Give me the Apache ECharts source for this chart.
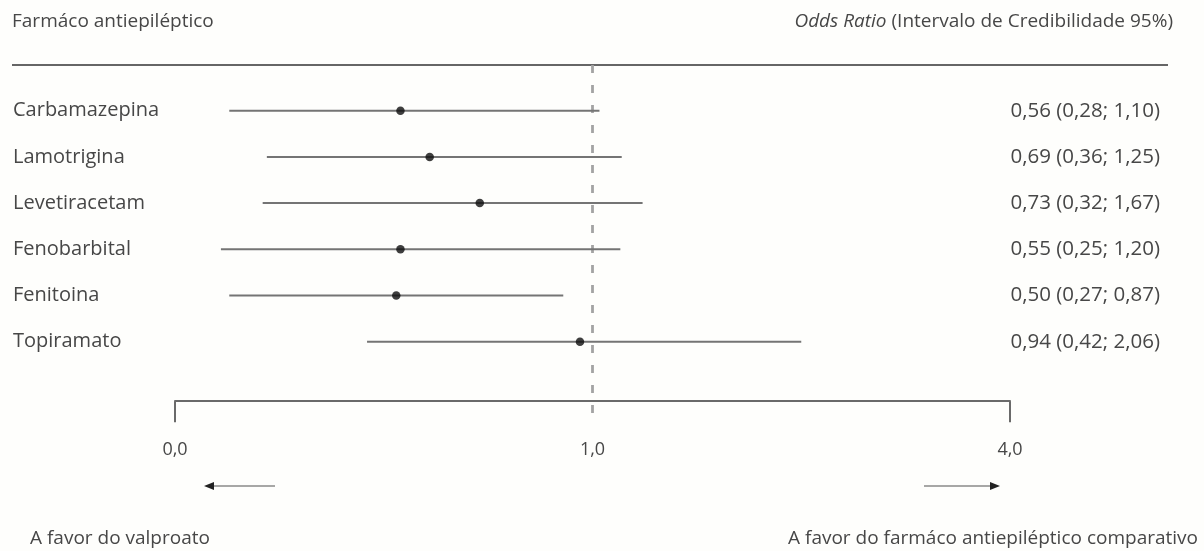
<!DOCTYPE html>
<html>
<head>
<meta charset="utf-8">
<script src="https://cdn.jsdelivr.net/npm/echarts@6/dist/echarts.min.js"></script>
<style>
html,body{margin:0;padding:0;background:#fefefc;}
#c{width:1204px;height:551px;}
</style>
</head>
<body>
<div id="c"></div>
<script>
// ---- data ----
const drugs = ['Carbamazepina', 'Lamotrigina', 'Levetiracetam', 'Fenobarbital', 'Fenitoina', 'Topiramato'];
const ciText = ['0,56 (0,28; 1,10)', '0,69 (0,36; 1,25)', '0,73 (0,32; 1,67)', '0,55 (0,25; 1,20)', '0,50 (0,27; 0,87)', '0,94 (0,42; 2,06)'];
// positions of the marks as drawn in the figure, read against its axis (0,0 | 1,0 | 4,0)
const pointDrawn = [0.54, 0.61, 0.73, 0.54, 0.53, 0.97];
const lowDrawn = [0.13, 0.22, 0.21, 0.11, 0.13, 0.46];
const highDrawn = [1.05, 1.21, 1.36, 1.20, 0.93, 2.50];
const axisTickValues = [0, 1, 4];
const axisTickLabels = ['0,0', '1,0', '4,0'];
const refValue = 1;

// axis of the figure: 0..1 and 1..4 take equal lengths
function toAxis(v) { return v <= 1 ? v : 1 + (v - 1) / 3; }

const FONT = 'Open Sans';
const TXT = '#474747';
const chart = echarts.init(document.getElementById('c'), null, {renderer: 'canvas'});

const tickPos = axisTickValues.map(toAxis);

const option = {
  backgroundColor: '#fefefc',
  animation: false,
  title: [
    {text: 'Farmáco antiepiléptico', left: 12, top: 12, padding: 0,
     textStyle: {fontSize: 19, fontWeight: 'normal', color: TXT, fontFamily: FONT}},
    {text: '{i|Odds Ratio} (Intervalo de Credibilidade 95%)', right: 31, top: 12, padding: 0,
     textStyle: {fontSize: 19, fontWeight: 'normal', color: TXT, fontFamily: FONT,
       rich: {i: {fontStyle: 'italic', fontSize: 19, color: TXT, fontFamily: FONT}}}},
    {text: 'A favor do valproato', left: 30, top: 529, padding: 0,
     textStyle: {fontSize: 19, fontWeight: 'normal', color: TXT, fontFamily: FONT}},
    {text: 'A favor do farmáco antiepiléptico comparativo', right: 6, top: 529, padding: 0,
     textStyle: {fontSize: 19, fontWeight: 'normal', color: TXT, fontFamily: FONT}}
  ],
  grid: [
    {left: 175, right: 194, top: 87.6, height: 277.2},
    {left: 175, right: 194, top: 65, height: 357}
  ],
  xAxis: [
    {type: 'value', gridIndex: 0, min: 0, max: 2, position: 'bottom', offset: 36.4,
     axisLine: {show: true, lineStyle: {color: '#6a6a6a', width: 2}},
     axisTick: {show: true, customValues: [tickPos[0], tickPos[2]], length: 21, inside: false,
       lineStyle: {color: '#6a6a6a', width: 2}},
     axisLabel: {customValues: tickPos, margin: 40, fontSize: 18, color: TXT, fontFamily: FONT,
       formatter: function (v) {
         const k = tickPos.findIndex(t => Math.abs(t - v) < 1e-6);
         return k >= 0 ? axisTickLabels[k] : '';
       }},
     splitLine: {show: false}},
    {type: 'value', gridIndex: 1, min: 0, max: 2, show: false}
  ],
  yAxis: [
    {type: 'category', gridIndex: 0, data: drugs, inverse: true,
     axisLine: {show: false}, axisTick: {show: false}, splitLine: {show: false},
     axisLabel: {align: 'left', margin: 162, fontSize: 20, color: TXT, fontFamily: FONT, padding: [5, 0, 0, 0]}},
    {type: 'category', gridIndex: 0, data: ciText, inverse: true, position: 'right',
     axisLine: {show: false}, axisTick: {show: false}, splitLine: {show: false},
     axisLabel: {align: 'right', margin: 150, fontSize: 20.5, color: TXT, fontFamily: FONT, padding: [4, 0, 0, 0]}},
    {type: 'value', gridIndex: 1, min: 0, max: 1, show: false}
  ],
  series: [
    {
      type: 'line', xAxisIndex: 1, yAxisIndex: 2,
      data: [[toAxis(refValue), 1], [toAxis(refValue), 0]],
      symbol: 'none', silent: true, z: 1,
      lineStyle: {color: '#a3a3a3', width: 2.8, type: [8, 12]}
    },
    {
      type: 'custom', xAxisIndex: 0, yAxisIndex: 0, z: 2,
      data: drugs.map((d, i) => [toAxis(lowDrawn[i]), toAxis(highDrawn[i]), i]),
      encode: {x: [0, 1], y: 2},
      renderItem: function (params, api) {
        const a = api.coord([api.value(0), api.value(2)]);
        const b = api.coord([api.value(1), api.value(2)]);
        return {type: 'line', shape: {x1: a[0], y1: a[1], x2: b[0], y2: b[1]},
          style: {stroke: '#747474', lineWidth: 2}};
      }
    },
    {
      type: 'scatter', xAxisIndex: 0, yAxisIndex: 0, z: 3,
      data: drugs.map((d, i) => [toAxis(pointDrawn[i]), i]),
      symbolSize: 8.5, itemStyle: {color: '#0e0e0e'}
    }
  ],
  graphic: [
    {type: 'line', shape: {x1: 12, y1: 65, x2: 1168, y2: 65}, style: {stroke: '#666', lineWidth: 2}},
    {type: 'line', shape: {x1: 212, y1: 486, x2: 275, y2: 486}, style: {stroke: '#8a8a8a', lineWidth: 1.5}},
    {type: 'polygon', shape: {points: [[204, 486], [214, 482], [214, 490]]}, style: {fill: '#222'}},
    {type: 'line', shape: {x1: 924, y1: 486, x2: 992, y2: 486}, style: {stroke: '#8a8a8a', lineWidth: 1.5}},
    {type: 'polygon', shape: {points: [[1000, 486], [990, 482], [990, 490]]}, style: {fill: '#222'}}
  ]
};
chart.setOption(option);
</script>
</body>
</html>
